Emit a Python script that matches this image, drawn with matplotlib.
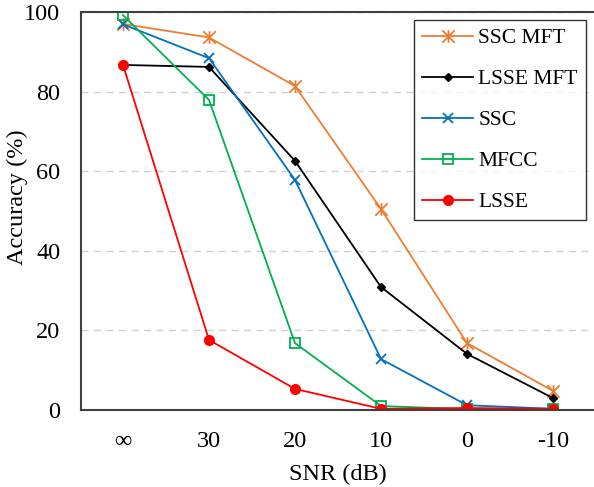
import numpy as np
import matplotlib.pyplot as plt
from matplotlib.path import Path

plt.rcParams['font.family'] = ['Liberation Serif', 'DejaVu Serif']

snr_labels = ['\u221e', '30', '20', '10', '0', '-10']
ssc_mft = [97.0, 93.6, 81.4, 50.5, 16.8, 4.8]
lsse_mft = [86.7, 86.2, 62.6, 30.9, 14.1, 3.0]
ssc = [96.9, 88.4, 57.8, 12.8, 1.2, 0.3]
mfcc = [99.2, 77.9, 16.8, 1.0, 0.2, 0.2]
lsse = [86.7, 17.6, 5.3, 0.3, 0.5, 0.3]

# excel-style star marker: x with a vertical bar
star = Path([(0, -1), (0, 1), (-1, -1), (1, 1), (-1, 1), (1, -1)],
            [Path.MOVETO, Path.LINETO, Path.MOVETO, Path.LINETO, Path.MOVETO, Path.LINETO])

x = np.arange(len(snr_labels))

fig = plt.figure(figsize=(5.94, 4.87), dpi=100)
ax = fig.add_axes([81/594, 77/487, 513/594, 398/487])

ax.plot(x, ssc_mft, color='#ED7D31', lw=1.3, marker=star, ms=9, mew=1.3, label='SSC MFT')
ax.plot(x, lsse_mft, color='black', lw=1.3, marker='D', ms=4.5, label='LSSE MFT')
ax.plot(x, ssc, color='#0070C0', lw=1.3, marker='x', ms=7, mew=1.3, label='SSC')
ax.plot(x, mfcc, color='#00B050', lw=1.3, marker='s', ms=7.5, mfc='none', mew=1.3, label='MFCC')
ax.plot(x, lsse, color='#FF0000', lw=1.3, marker='o', ms=7, label='LSSE')

ax.set_xlim(-(123 - 81) / 86, 5 + (594 - 553) / 86)
ax.set_ylim(0, 100)
ax.set_xticks(x)
ax.set_xticklabels(snr_labels)
ax.set_yticks([0, 20, 40, 60, 80, 100])
ax.tick_params(length=0, labelsize=17.5, pad=15)
ax.grid(axis='y', color='#D0D0D0', ls=(0, (5, 4)), lw=1)
ax.set_axisbelow(True)
ax.spines['right'].set_visible(False)
for s in ['left', 'top', 'bottom']:
    ax.spines[s].set_color('#404040')
    ax.spines[s].set_linewidth(1.5)

ax.set_xlabel('SNR (dB)', fontsize=17.5, labelpad=9)
ax.set_ylabel('Accuracy (%)', fontsize=17.5)
ax.yaxis.set_label_coords((28 - 81) / 513, 0.535)

leg = ax.legend(loc='upper right', bbox_to_anchor=(586/594, (487 - 20)/487),
                bbox_transform=fig.transFigure, fontsize=15.5, frameon=True,
                fancybox=False, edgecolor='black', handlelength=2.35,
                labelspacing=0.97, borderpad=0.38, handletextpad=0.25,
                borderaxespad=0)
leg.get_frame().set_linewidth(1.0)

fig.savefig('out.png', dpi=100)
